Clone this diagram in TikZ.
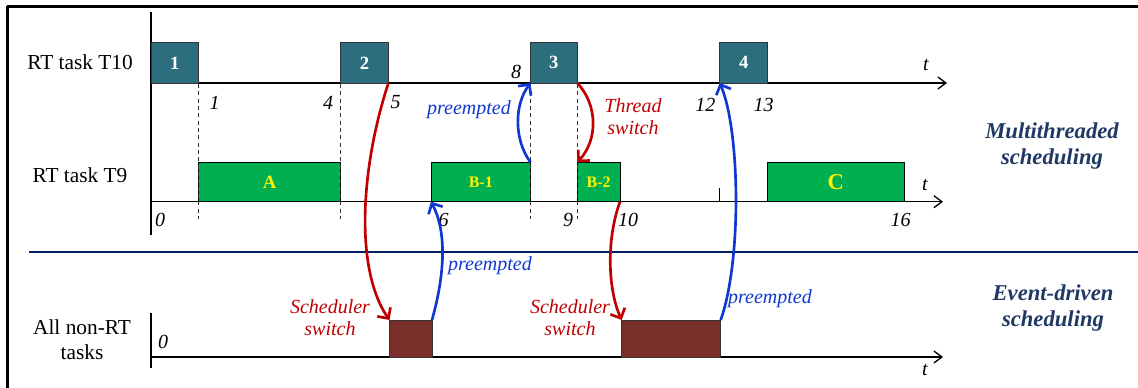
\documentclass[tikz,border=0pt]{standalone}
\usepackage{fontspec}
\setmainfont{Liberation Serif}
\usetikzlibrary{arrows.meta}

\definecolor{taskteal}{RGB}{45,110,126}
\definecolor{taskgreen}{RGB}{0,176,80}
\definecolor{taskbrown}{RGB}{120,47,42}
\definecolor{switchred}{RGB}{192,0,0}
\definecolor{preblue}{RGB}{16,56,208}
\definecolor{headnavy}{RGB}{31,56,100}
\definecolor{linenavy}{RGB}{0,32,96}
\def\px{0.75pt}

\tikzset{
 axis/.style={black, line width=1pt},
 timeaxis/.style={axis, -{Straight Barb[length=6pt,width=9pt]}},
 rtbox/.style={draw=black!80, fill=taskteal, text=white, anchor=south west, inner sep=0pt, outer sep=0pt, font=\fontsize{14}{16}\selectfont\bfseries},
 tnbox/.style={draw=black, fill=taskgreen, text=yellow, anchor=south west, inner sep=0pt, outer sep=0pt, font=\fontsize{14}{16}\selectfont\bfseries},
 nrtbox/.style={draw=black!80, fill=taskbrown, anchor=south west, inner sep=0pt, outer sep=0pt},
 tasklabel/.style={align=center, font=\fontsize{16}{18.5}\selectfont},
 num/.style={font=\fontsize{15}{17}\selectfont\itshape},
 heading/.style={align=center, text=headnavy, font=\fontsize{17}{20}\selectfont\bfseries\itshape},
 switcharr/.style={switchred, line width=2pt, -{Straight Barb[length=6pt,width=12pt]}},
 preemptarr/.style={preblue, line width=2pt, -{Straight Barb[length=6pt,width=12pt]}},
 switchtext/.style={switchred, align=center, font=\fontsize{15}{16.5}\selectfont\itshape},
 preempttext/.style={preblue, font=\fontsize{15}{17}\selectfont\itshape}
}

\begin{document}
\begin{tikzpicture}[x=0.75pt, y=-0.75pt]
 \useasboundingbox (0,0) rectangle (1138,388);

 %Frame
 \draw[line width=1.6pt] (7,6.5) -- (1138,6.5);
 \draw[line width=1.6pt] (7.5,6) -- (7.5,388);

 %Axes
 \draw[axis] (151,12) -- (151,235);
 \draw[timeaxis] (151,83) -- (947,83);
 \draw[timeaxis] (151,201.7) -- (943,201.7);
 \draw[axis] (719.7,188) -- (719.7,201.7);
 \draw[axis] (151,313) -- (151,368);
 \draw[timeaxis] (151,357) -- (943,357);

 %Divider
 \draw[linenavy, line width=1.2pt] (29,252) -- (1138,252);

 %Task names
 \node[tasklabel] (t10) at (80,62) {RT task T10};
 \node[tasklabel] (t9) at (80,175) {RT task T9};
 \node[tasklabel] (nrt) at (82,340) {All non-RT\\tasks};

 %T10 boxes
 \node[rtbox, minimum width=47.5*\px, minimum height=40.3*\px] (b1) at (151,83) {1};
 \node[rtbox, minimum width=47.7*\px, minimum height=40.3*\px] (b2) at (340.7,83) {2};
 \node[rtbox, minimum width=46.8*\px, minimum height=40.3*\px] (b3) at (530.5,83) {3};
 \node[rtbox, minimum width=48*\px, minimum height=40.3*\px] (b4) at (719.7,83) {4};

 %T9 boxes
 \node[tnbox, minimum width=142.2*\px, minimum height=39.4*\px] (ta) at (198.5,201.7) {A};
 \node[tnbox, minimum width=99.5*\px, minimum height=39.4*\px, font=\fontsize{12}{14}\selectfont\bfseries] (tb1) at (431,201.7) {B-1};
 \node[tnbox, minimum width=42.7*\px, minimum height=39.4*\px, font=\fontsize{12}{14}\selectfont\bfseries] (tb2) at (577.3,201.7) {B-2};
 \node[tnbox, minimum width=136.3*\px, minimum height=39.4*\px, font=\fontsize{17}{19}\selectfont\bfseries] (tc) at (767.7,201.7) {C};

 %Non-RT boxes
 \node[nrtbox, minimum width=42.5*\px, minimum height=37*\px] (n1) at (389.5,357) {};
 \node[nrtbox, minimum width=99*\px, minimum height=37*\px] (n2) at (621.7,357) {};

 %Dashed guides
 \foreach \x in {198.5,340.7,530.5,577.3}
  \draw[dashed, dash pattern=on 3pt off 2.5pt, black!80, line width=0.6pt] (\x,84) -- (\x,219);

 %Times
 \node[num] (k1) at (214.5,103) {1};
 \node[num] (k4) at (328,103) {4};
 \node[num] (k5) at (395.6,102) {5};
 \node[num] (k8) at (516,72) {8};
 \node[num] (k12) at (705.4,105) {12};
 \node[num] (k13) at (763.6,105) {13};
 \node[num] (z9) at (160,220) {0};
 \node[num] (k6) at (443.6,220) {6};
 \node[num] (k9) at (568,220) {9};
 \node[num] (k10) at (628,220) {10};
 \node[num] (k16) at (900.7,220) {16};
 \node[num] (z0) at (163,342) {0};
 \node[num] (ta10) at (926,65) {t};
 \node[num] (ta9) at (925,185) {t};
 \node[num] (tan) at (925,370) {t};

 %Switches
 \draw[switcharr] (b2.south east) .. controls (360,170) and (355,270) .. (n1.north west);
 \draw[preemptarr] (n1.north east) .. controls (446,270) and (446,230) .. (tb1.south west);
 \draw[preemptarr] (tb1.north east) .. controls (514,140) and (514,105) .. (b3.south west);
 \draw[switcharr] (b3.south east) .. controls (598,105) and (598,140) .. (tb2.north west);
 \draw[switcharr] (tb2.south east) .. controls (606,240) and (608,290) .. (n2.north west);
 \draw[preemptarr] (n2.north east) .. controls (742,260) and (740,130) .. (b4.south west);

 %Switch labels
 \node[preempttext] (p1) at (469,110) {preempted};
 \node[preempttext] (p2) at (490,266) {preempted};
 \node[preempttext] (p3) at (770,299) {preempted};
 \node[switchtext] (s1) at (633,117) {Thread\\switch};
 \node[switchtext] (s2) at (330,318) {Scheduler\\switch};
 \node[switchtext] (s3) at (570,318) {Scheduler\\switch};

 %Headings
 \node[heading] (mt) at (1052,146) {Multithreaded\\scheduling};
 \node[heading] (ed) at (1053,308) {Event-driven\\scheduling};

\end{tikzpicture}
\end{document}
